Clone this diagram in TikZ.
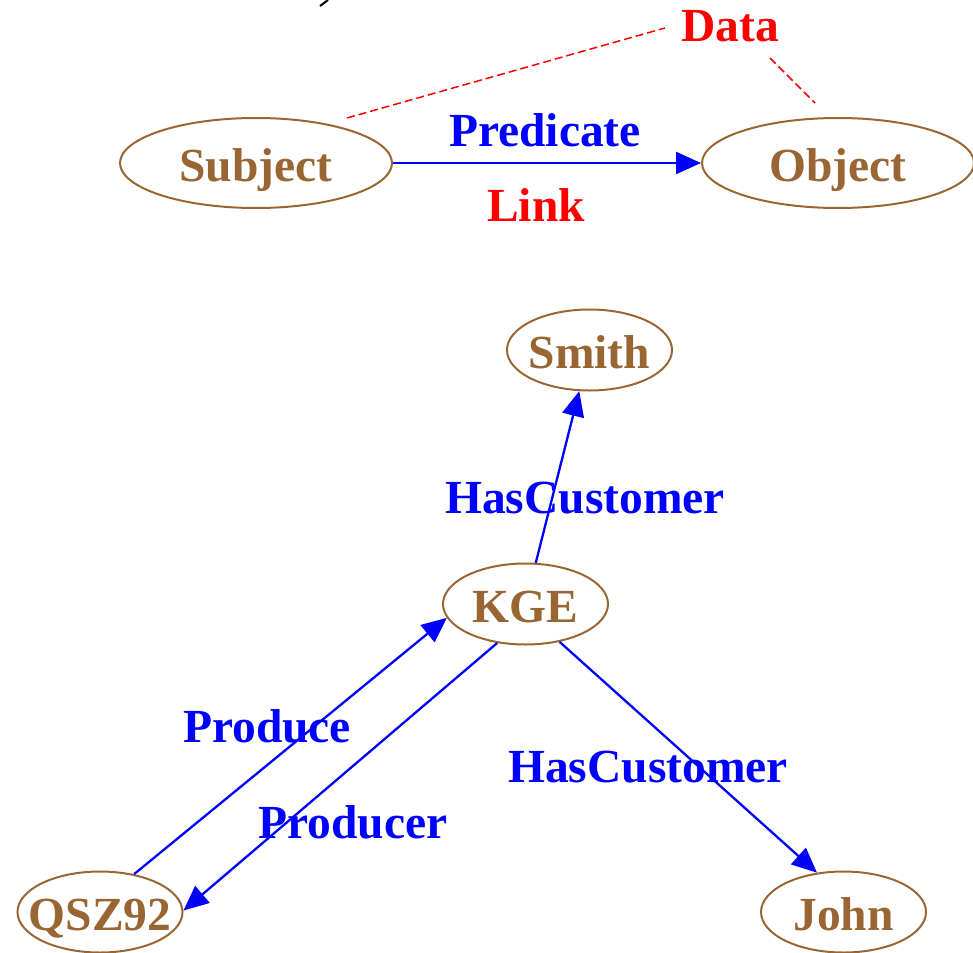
\documentclass[tikz,border=0pt]{standalone}
\usepackage{fontspec}
\setmainfont{Liberation Serif}
\usetikzlibrary{shapes.geometric,arrows.meta}
\definecolor{nodebrown}{HTML}{996633}
\definecolor{edgeblue}{HTML}{0000FF}
\definecolor{datared}{HTML}{FF0000}
\tikzset{
  txt/.style={font=\fontsize{47.5}{50}\selectfont\bfseries, inner sep=0pt, text height=37pt, text depth=0pt},
  ent/.style={txt, ellipse, draw=nodebrown, line width=2pt, text=nodebrown, inner xsep=-25pt, inner ysep=-5pt},
  bigent/.style={ent, minimum width=272pt, minimum height=90pt},
  smallent/.style={ent, minimum width=165pt, minimum height=81pt},
  rel/.style={txt, text=edgeblue},
  redlbl/.style={txt, text=datared},
  edge/.style={draw=edgeblue, line width=2.3pt, -{Triangle[length=25pt,width=22pt]}},
  datalink/.style={draw=datared, line width=1.5pt, dash pattern=on 8pt off 4pt}
}
\begin{document}
\begin{tikzpicture}[x=1pt,y=-1pt]
\useasboundingbox (0,0) rectangle (973,952);
% stray mark at top
\coordinate (m1) at (320,6);
\coordinate (m2) at (328,0);
\draw[black, line width=2pt] (m1) -- (m2);

% top triple
\node[bigent] (subject) at (256,163) {Subject};
\node[bigent] (object) at (838,163) {Object};
\node[rel] (pred) at (545,128.5) {Predicate};
\node[redlbl] (link) at (536,202.5) {Link};
\node[redlbl] (data) at (730,23.5) {Data};
\draw[edge] (subject.east) -- (object.west);

\coordinate (da) at (347,118);
\coordinate (db) at (665,28);
\coordinate (dc) at (770,58);
\coordinate (dd) at (815,103);
\draw[datalink] (da) -- (db);
\draw[datalink] (dc) -- (dd);

% bottom graph
\node[smallent] (smith) at (589.5,350) {Smith};
\node[smallent] (kge) at (525.5,604) {KGE};
\node[smallent] (qsz) at (100,912) {QSZ92};
\node[smallent] (john) at (843.5,912) {John};

\draw[edge] (kge.76.6) -- (smith.256.6);
\draw[edge] (qsz.48.7) -- (kge.190.4);
\draw[edge] (kge.234.8) -- (qsz.1.4);
\draw[edge] (kge.312.4) -- (john.124.8);

\node[rel] (hc1) at (585,494.5) {HasCustomer};
\node[rel] (prod) at (267,723.5) {Produce};
\node[rel] (prodr) at (353,819.5) {Producer};
\node[rel] (hc2) at (648,763.5) {HasCustomer};
\end{tikzpicture}
\end{document}
